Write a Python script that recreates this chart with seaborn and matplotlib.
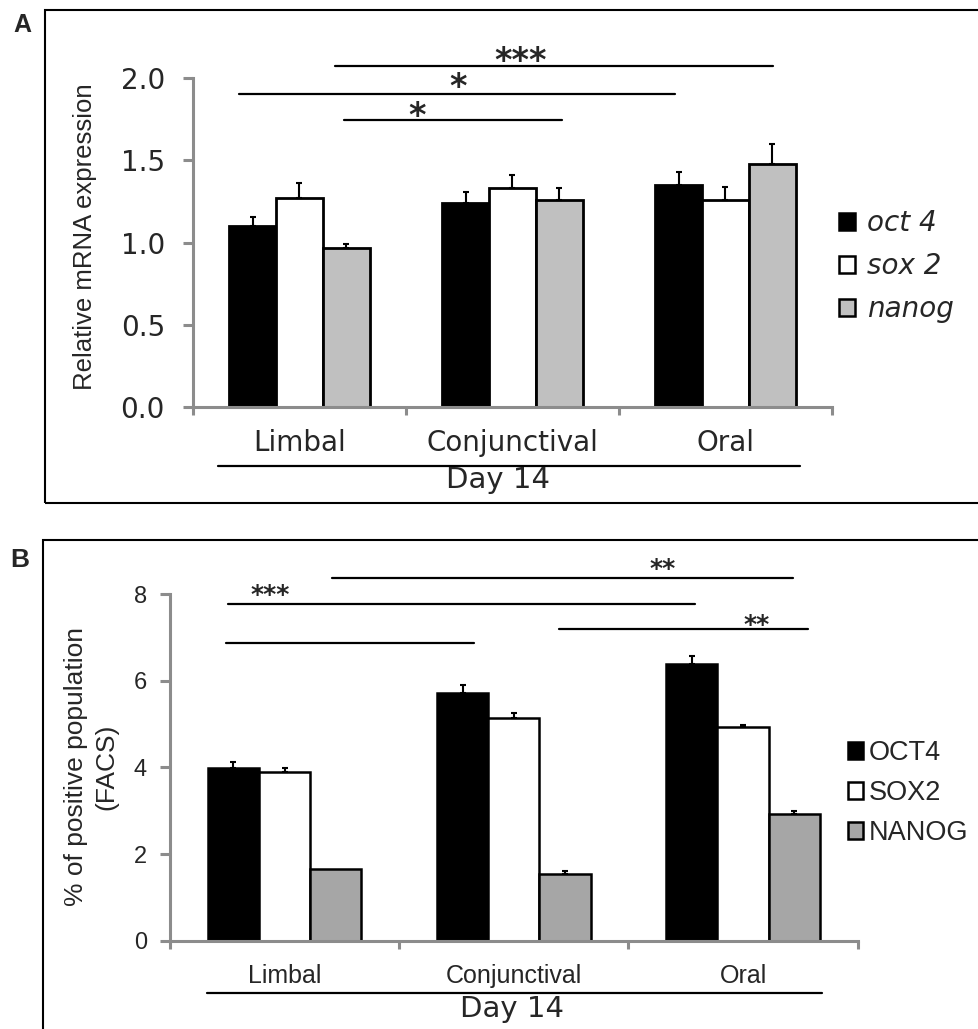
import matplotlib
matplotlib.use("Agg")
import numpy as np
import pandas as pd
import seaborn as sns
import matplotlib.pyplot as plt
from matplotlib.patches import Patch, Rectangle

# ---- data ----
sites = ["Limbal", "Conjunctival", "Oral"]
group_label = "Day 14"

# panel A: relative mRNA expression
genes_a = ["oct 4", "sox 2", "nanog"]
oct4_a = [1.10, 1.24, 1.35]
sox2_a = [1.27, 1.33, 1.26]
nanog_a = [0.965, 1.26, 1.475]
oct4_a_err = [0.055, 0.07, 0.08]
sox2_a_err = [0.09, 0.08, 0.08]
nanog_a_err = [0.025, 0.07, 0.125]
yticks_a = [0.0, 0.5, 1.0, 1.5, 2.0]

# panel B: % positive population (FACS)
genes_b = ["OCT4", "SOX2", "NANOG"]
oct4_b = [3.98, 5.72, 6.39]
sox2_b = [3.89, 5.13, 4.93]
nanog_b = [1.655, 1.54, 2.93]
oct4_b_err = [0.14, 0.18, 0.18]
sox2_b_err = [0.09, 0.13, 0.04]
nanog_b_err = [0.0, 0.08, 0.06]
yticks_b = [0, 2, 4, 6, 8]

# significance brackets: (x start, x end, y, label, label x, label y)
sig_a = [
    (0.167, 2.223, 2.07, "***", 1.04, 2.10),
    (-0.284, 1.763, 1.90, "*", 0.744, 1.94),
    (0.209, 1.232, 1.745, "*", 0.55, 1.765),
]
sig_b = [
    (0.207, 2.218, 8.37, "**", 1.651, 8.59),
    (-0.247, 1.791, 7.77, "***", -0.064, 7.99),
    (-0.256, 0.826, 6.88, "", 0, 0),
    (1.197, 2.284, 7.19, "**", 2.057, 7.28),
]


def long_df(genes, series):
    rows = []
    for g, vals in zip(genes, series):
        for s, v in zip(sites, vals):
            rows.append({"site": s, "gene": g, "value": v})
    return pd.DataFrame(rows)


sns.set_style("white")
plt.rcParams["font.family"] = ["DejaVu Sans"]

W, H = 979, 1029
fig = plt.figure(figsize=(W / 100, H / 100), dpi=100)

AX_GREY = "#8c8c8c"


def draw_panel(ax, df, genes, colors, errs, width, ylim, yticks, fmt,
               tick_font, tick_size, tick_pad, cat_size, cat_pad, edge_lw):
    sns.barplot(data=df, x="site", y="value", hue="gene", hue_order=genes,
                order=sites, palette=colors, width=width, edgecolor="black",
                linewidth=edge_lw, errorbar=None, legend=False, ax=ax, zorder=2)
    # one-sided (upper) error bars on top of each bar
    for cont, err in zip(ax.containers, errs):
        xs = np.array([p.get_x() + p.get_width() / 2 for p in cont.patches])
        ys = np.array([p.get_height() for p in cont.patches])
        err = np.array(err)
        keep = err > 0
        ax.errorbar(xs[keep], ys[keep],
                    yerr=[np.zeros(keep.sum()), err[keep]], fmt="none",
                    ecolor="black", elinewidth=1.5, capsize=2.5, capthick=1.5,
                    zorder=3)
    ax.set_xlim(-0.5, 2.5)
    ax.set_ylim(*ylim)
    ax.set_xlabel("")
    ax.set_ylabel("")
    for s in ["top", "right"]:
        ax.spines[s].set_visible(False)
    for s in ["left", "bottom"]:
        ax.spines[s].set_color(AX_GREY)
        ax.spines[s].set_linewidth(2.2)
    ax.spines["left"].set_bounds(yticks[0], yticks[-1])
    ax.set_yticks(yticks)
    ax.set_yticklabels([fmt.format(t) for t in yticks],
                       fontsize=tick_size, family=tick_font)
    ax.set_xticks([0, 1, 2])
    ax.set_xticklabels(sites, fontsize=cat_size, family=tick_font)
    ax.set_xticks([-0.5, 0.5, 1.5, 2.5], minor=True)
    ax.tick_params(axis="y", direction="out", length=7.2, width=2.2,
                   color=AX_GREY, left=True, pad=tick_pad)
    ax.tick_params(axis="x", which="major", length=0, pad=cat_pad)
    ax.tick_params(axis="x", which="minor", direction="out", length=5.8,
                   width=2.2, color=AX_GREY, bottom=True)


# ---- panel A ----
ax_a = fig.add_axes([193 / W, 1 - 407 / H, 639 / W, 361.9 / H])
df_a = long_df(genes_a, [oct4_a, sox2_a, nanog_a])
colors_a = ["#000000", "#ffffff", "#c0c0c0"]
draw_panel(ax_a, df_a, genes_a, colors_a,
           [oct4_a_err, sox2_a_err, nanog_a_err], 0.66, (0, 2.2), yticks_a,
           "{:.1f}", "DejaVu Sans", 20, 13, 20, 15.5, 2.0)

for x0, x1, y, lab, lx, ly in sig_a:
    ax_a.plot([x0, x1], [y, y], color="black", lw=1.6, clip_on=False)
    if lab:
        ax_a.text(lx, ly, lab, ha="center", va="center", fontsize=24,
                  fontweight="bold", clip_on=False)
ax_a.plot([-0.383, 2.35], [-0.359, -0.359], color="black", lw=1.6,
          clip_on=False)
ax_a.text(0.93, -0.445, group_label, ha="center", va="center", fontsize=21,
          clip_on=False)

fig.text(85 / W, 1 - 237 / H, "Relative mRNA expression", rotation=90,
         ha="center", va="center", fontsize=18.5, family="Liberation Sans")

handles_a = [Patch(facecolor=c, edgecolor="black", linewidth=1.8)
             for c in colors_a]
fig.legend(handles_a, genes_a, loc="center left",
           bbox_to_anchor=(839 / W, 1 - 266 / H),
           bbox_transform=fig.transFigure, frameon=False,
           prop={"size": 20, "style": "italic", "family": "DejaVu Sans"},
           handlelength=0.58, handleheight=0.58, handletextpad=0.43,
           labelspacing=0.54, borderpad=0, borderaxespad=0)

# ---- panel B ----
ax_b = fig.add_axes([170 / W, 1 - 940.7 / H, 687.7 / W, 372.6 / H])
df_b = long_df(genes_b, [oct4_b, sox2_b, nanog_b])
colors_b = ["#000000", "#ffffff", "#a6a6a6"]
draw_panel(ax_b, df_b, genes_b, colors_b,
           [oct4_b_err, sox2_b_err, nanog_b_err], 0.67, (0, 8.6), yticks_b,
           "{:d}", "Liberation Sans", 17, 9.5, 18, 17, 1.8)

for x0, x1, y, lab, lx, ly in sig_b:
    ax_b.plot([x0, x1], [y, y], color="black", lw=1.6, clip_on=False)
    if lab:
        ax_b.text(lx, ly, lab, ha="center", va="center", fontsize=18,
                  fontweight="bold", clip_on=False)
ax_b.plot([-0.339, 2.345], [-1.214, -1.214], color="black", lw=1.6,
          clip_on=False)
ax_b.text(0.99, -1.576, group_label, ha="center", va="center", fontsize=21,
          clip_on=False)

fig.text(91 / W, 1 - 767 / H, "% of positive population\n(FACS)", rotation=90,
         ha="center", va="center", multialignment="center", fontsize=19,
         family="Liberation Sans", linespacing=1.32)

handles_b = [Patch(facecolor=c, edgecolor="black", linewidth=1.8)
             for c in colors_b]
fig.legend(handles_b, genes_b, loc="center left",
           bbox_to_anchor=(848 / W, 1 - 793 / H),
           bbox_transform=fig.transFigure, frameon=False,
           prop={"size": 19.5, "family": "Liberation Sans"},
           handlelength=0.56, handleheight=0.56, handletextpad=0.2,
           labelspacing=0.52, borderpad=0, borderaxespad=0)

# ---- panel frames and letters ----
fig.add_artist(Rectangle((45 / W, 1 - 502.7 / H), 2, (502.7 - 10) / H,
                         transform=fig.transFigure, fill=False,
                         edgecolor="black", linewidth=1.5))
fig.add_artist(Rectangle((43 / W, -1), 2, 1 - 540 / H + 1,
                         transform=fig.transFigure, fill=False,
                         edgecolor="black", linewidth=1.5))
fig.text(22 / W, 1 - 25 / H, "A", fontsize=18, fontweight="bold",
         family="Liberation Sans", ha="center", va="center")
fig.text(20 / W, 1 - 560 / H, "B", fontsize=19, fontweight="bold",
         family="Liberation Sans", ha="center", va="center")

fig.savefig("out.png", dpi=100)
